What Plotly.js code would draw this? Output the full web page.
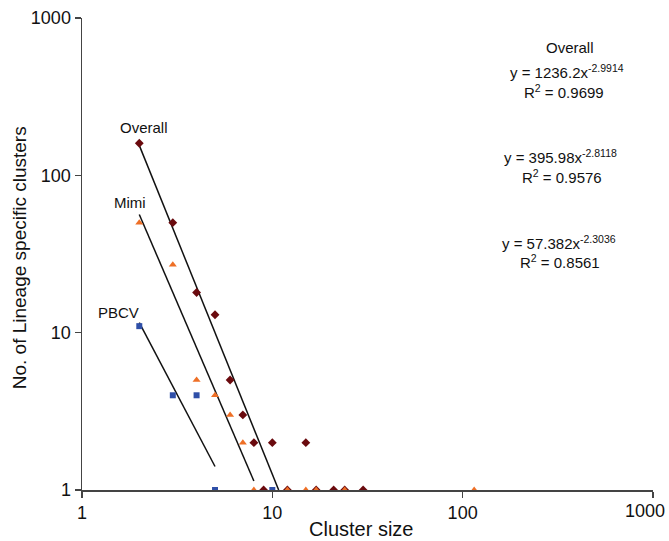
<!DOCTYPE html>
<html><head><meta charset="utf-8">
<script src="https://cdn.plot.ly/plotly-3.0.1.min.js"></script>
<style>html,body{margin:0;padding:0;background:#fff;}#c{width:669px;height:541px;}</style>
</head><body><div id="c"></div>
<script>
// Overall (dark red diamonds)
const overallX = [2, 3, 4, 5, 6, 7, 8, 9, 10, 12, 15, 17, 21, 24, 30];
const overallY = [160, 50, 18, 13, 5, 3, 2, 1, 2, 1, 2, 1, 1, 1, 1];
// Mimi (orange triangles)
const mimiX = [2, 3, 4, 5, 6, 7, 8, 12, 15, 17, 24, 115];
const mimiY = [50, 27, 5, 4, 3, 2, 1, 1, 1, 1, 1, 1];
// PBCV (blue squares)
const pbcvX = [2, 3, 4, 5, 10];
const pbcvY = [11, 4, 4, 1, 1];
// Power trend line endpoints
const overallFitX = [2, 10.8];
const overallFitY = [155, 1];
const mimiFitX = [2, 8];
const mimiFitY = [56.4, 1.14];
const pbcvFitX = [2, 5];
const pbcvFitY = [11.6, 1.41];
// Ticks
const tickVals = [1, 10, 100, 1000];
const yTickText = ["1", "10", "100", "1000"];
const xTickText = ["1", "10", "100", ""];
const xLastTickLabel = "1000";

const F = "Liberation Sans, Arial, sans-serif";
const lineStyle = {color: "#111", width: 1.5};
const traces = [
  {x: overallFitX, y: overallFitY, mode: "lines", line: lineStyle, hoverinfo: "skip"},
  {x: mimiFitX, y: mimiFitY, mode: "lines", line: lineStyle, hoverinfo: "skip"},
  {x: pbcvFitX, y: pbcvFitY, mode: "lines", line: lineStyle, hoverinfo: "skip"},
  {x: overallX, y: overallY, mode: "markers", name: "Overall",
   marker: {symbol: "diamond", size: 6.8, color: "#6a0a0e"}},
  {x: pbcvX, y: pbcvY, mode: "markers", name: "PBCV",
   marker: {symbol: "square", size: 6, color: "#2f4fa8"}},
  {x: mimiX, y: mimiY, mode: "markers", name: "Mimi",
   marker: {symbol: "triangle-up", size: 7, color: "#ee6f26"}}
];

const ann = (x, y, text, size, extra) => Object.assign({x: x, y: y, xref: "paper", yref: "paper", text: text,
  showarrow: false, font: {family: F, size: size || 15, color: "#111"}, xanchor: "center", yanchor: "middle"}, extra || {});

// paper coords: x from 81.5 to 652.7 (width 571.2), y from 490.5 (0) to 18 (1), height 472.5
const px = v => (v - 81.5) / 571.2;
const py = v => (490.5 - v) / 472.5;

const layout = {
  width: 669, height: 541,
  margin: {l: 81.5, r: 16.3, t: 18, b: 50.5},
  paper_bgcolor: "#fff", plot_bgcolor: "#fff",
  showlegend: false,
  font: {family: F, size: 15, color: "#111"},
  xaxis: {type: "log", range: [0, 3.0002], tickvals: tickVals, ticktext: xTickText,
    showgrid: false, zeroline: false, showline: true, linecolor: "#444", linewidth: 1.5,
    ticks: "outside", ticklen: 6, tickcolor: "#444", tickwidth: 1.2,
    tickfont: {family: F, size: 18, color: "#111"}},
  yaxis: {type: "log", range: [0, 3], tickvals: tickVals, ticktext: yTickText,
    showgrid: false, zeroline: false, showline: true, linecolor: "#444", linewidth: 1.5,
    ticks: "outside", ticklen: 6, tickcolor: "#444", tickwidth: 1.2,
    ticklabeloverflow: "allow",
    tickfont: {family: F, size: 18, color: "#111"}},
  annotations: [
    ann(px(667), py(512), xLastTickLabel, 18, {xanchor: "right"}),
    ann(px(361), py(530), "Cluster size", 20),
    ann(px(19), py(258), "No. of Lineage specific clusters", 19, {textangle: -90}),
    ann(px(144), py(128), "Overall", 15),
    ann(px(130), py(203), "Mimi", 15),
    ann(px(118), py(313), "PBCV", 15),
    ann(px(570), py(48), "Overall"),
    ann(px(567), py(72), "y = 1236.2x<sup>-2.9914</sup>"),
    ann(px(564), py(92), "R<sup>2</sup> = 0.9699"),
    ann(px(560), py(157), "y = 395.98x<sup>-2.8118</sup>"),
    ann(px(562), py(177), "R<sup>2</sup> = 0.9576"),
    ann(px(559), py(243), "y = 57.382x<sup>-2.3036</sup>"),
    ann(px(560), py(262), "R<sup>2</sup> = 0.8561")
  ]
};
Plotly.newPlot("c", traces, layout, {displayModeBar: false, staticPlot: true});
</script></body></html>
